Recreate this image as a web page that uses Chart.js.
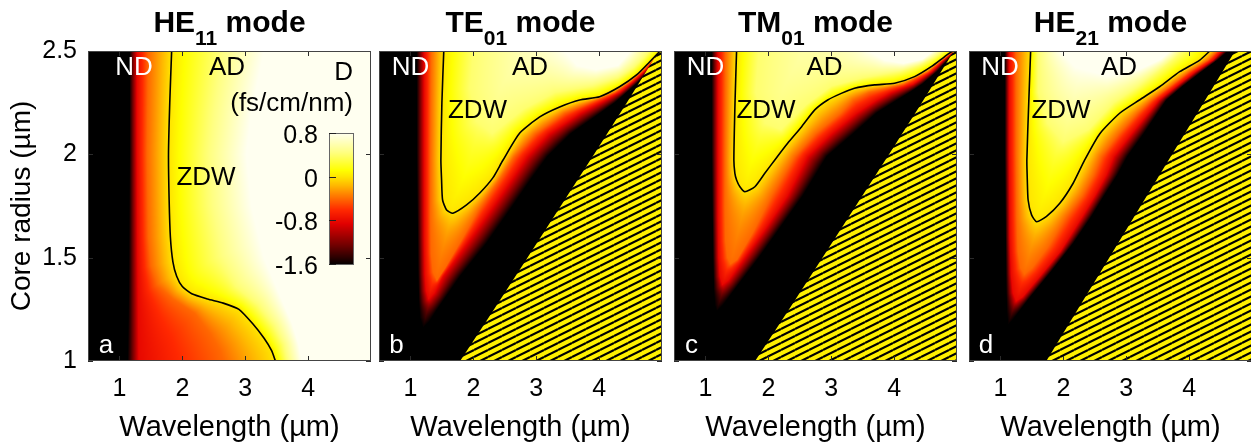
<!DOCTYPE html>
<html>
<head>
<meta charset="utf-8">
<script src="https://cdn.jsdelivr.net/npm/chart.js@4.4.1/dist/chart.umd.min.js"></script>
<style>
  html, body { margin: 0; padding: 0; background: #fff; overflow: hidden; width: 1251px; height: 445px; }
  canvas { position: absolute; top: 0; }
</style>
</head>
<body>
<canvas id="pa" width="376" height="445" style="left:0px"></canvas>
<canvas id="pb" width="293" height="445" style="left:376px"></canvas>
<canvas id="pc" width="293" height="445" style="left:669px"></canvas>
<canvas id="pd" width="291" height="445" style="left:962px"></canvas>
<script>
// ---------- axes ----------
const wavelengthLimits = [0.5, 5];        // µm
const radiusLimits = [1, 2.5];            // µm
const wavelengthTicks = [1, 2, 3, 4];
const radiusTicks = [1, 1.5, 2, 2.5];

// dispersion levels (fs/cm/nm) of the iso-D curves listed below
const dLevels = [-1.6, -0.8, -0.4, 0, 0.4, 0.8];
const colorbarTicks = [0.8, 0, -0.8, -1.6];

const modeFamily = ['HE', 'TE', 'TM', 'HE'];
const modeIndex = ['11', '01', '01', '21'];
const panelLetters = ['a', 'b', 'c', 'd'];

// ---------- HE11 iso-D curves: [wavelength, core radius] ----------
const HE11_m16 = [[1.16,2.5],[1.16,2.0],[1.15,1.5],[1.14,1.2],[1.13,1.0]];
const HE11_m08 = [[1.28,2.5],[1.28,2.0],[1.29,1.5],[1.3,1.25],[1.31,1.0]];
const HE11_m04 = [[1.46,2.5],[1.44,2.0],[1.46,1.6],[1.5,1.46],[1.6,1.37],[1.85,1.3],[2.2,1.23],[2.45,1.13],[2.6,1.05],[2.66,1.0]];
const HE11_zdw = [[1.83,2.5],[1.8,2.25],[1.78,2.0],[1.79,1.78],[1.81,1.6],[1.85,1.48],[1.91,1.41],[2.0,1.36],[2.15,1.325],[2.4,1.3],[2.65,1.28],[2.9,1.25],[3.12,1.18],[3.3,1.11],[3.42,1.05],[3.48,1.0]];
const HE11_p04 = [[2.55,2.5],[2.42,2.2],[2.36,2.0],[2.4,1.75],[2.55,1.5],[2.85,1.36],[3.2,1.27],[3.45,1.17],[3.6,1.08],[3.66,1.0]];
const HE11_p08 = [[3.3,2.5],[3.1,2.2],[3.02,2.0],[3.1,1.75],[3.3,1.5],[3.55,1.32],[3.75,1.18],[3.85,1.08],[3.9,1.0]];

// ---------- TE01 ----------
const TE01_m16 = [[1.1,2.5],[1.1,2.0],[1.11,1.7],[1.12,1.45],[1.13,1.3],[1.15,1.21],[1.2,1.16],[1.3,1.19],[1.42,1.247],[1.79,1.41],[2.21,1.57],[2.58,1.73],[2.94,1.89],[3.18,1.99],[3.55,2.1],[4.02,2.2],[4.25,2.25],[4.44,2.3],[4.62,2.35],[4.78,2.4],[4.89,2.45],[5.0,2.5]];
const TE01_m08 = [[1.22,2.5],[1.22,2.0],[1.22,1.6],[1.23,1.42],[1.25,1.34],[1.29,1.3],[1.38,1.33],[1.52,1.41],[1.9,1.57],[2.27,1.73],[2.63,1.89],[2.85,1.99],[3.2,2.1],[3.7,2.2],[4.02,2.25],[4.33,2.3],[4.54,2.35],[4.72,2.4],[4.86,2.45],[4.98,2.5]];
const TE01_m04 = [[1.33,2.5],[1.32,2.0],[1.32,1.7],[1.33,1.52],[1.36,1.43],[1.42,1.39],[1.55,1.45],[1.8,1.58],[2.08,1.73],[2.44,1.89],[2.65,1.99],[2.98,2.1],[3.45,2.2],[3.85,2.25],[4.25,2.3],[4.49,2.35],[4.68,2.4],[4.84,2.45],[4.97,2.5]];
const TE01_zdw = [[1.53,2.5],[1.5,2.25],[1.484,1.973],[1.495,1.876],[1.511,1.779],[1.575,1.731],[1.675,1.715],[1.892,1.755],[2.103,1.813],[2.31,1.886],[2.468,1.97],[2.738,2.103],[3.056,2.181],[3.373,2.229],[3.69,2.263],[4.008,2.279],[4.325,2.327],[4.595,2.384],[4.802,2.447],[4.97,2.5]];
const TE01_p04 = [[2.0,2.5],[1.95,2.32],[2.05,2.16],[2.3,2.1],[2.8,2.22],[3.3,2.3],[3.9,2.33],[4.3,2.37],[4.55,2.42],[4.72,2.47],[4.8,2.5]];
const TE01_p08 = [[3.45,2.5],[3.65,2.43],[3.95,2.41],[4.3,2.43],[4.5,2.5]];
const TE01_cut = [[1.79,1.0],[2.33,1.25],[2.86,1.5],[3.39,1.75],[3.92,2.0],[4.44,2.25],[4.95,2.5],[5.0,2.5]];

// ---------- TM01 ----------
const TM01_m16 = [[1.1,2.5],[1.1,2.0],[1.11,1.7],[1.12,1.5],[1.13,1.35],[1.15,1.27],[1.18,1.24],[1.28,1.27],[1.5,1.36],[1.85,1.5],[2.2,1.65],[2.55,1.8],[2.93,1.99],[3.35,2.1],[3.72,2.2],[4.05,2.263],[4.25,2.3],[4.45,2.34],[4.68,2.4],[4.83,2.45],[4.98,2.5]];
const TM01_m08 = [[1.2,2.5],[1.2,2.0],[1.2,1.7],[1.21,1.5],[1.23,1.41],[1.27,1.37],[1.36,1.39],[1.6,1.49],[1.95,1.64],[2.3,1.8],[2.62,1.99],[3.0,2.1],[3.4,2.2],[3.72,2.263],[3.95,2.3],[4.3,2.34],[4.6,2.4],[4.77,2.45],[4.96,2.5]];
const TM01_m04 = [[1.32,2.5],[1.31,2.0],[1.31,1.75],[1.32,1.58],[1.35,1.5],[1.4,1.47],[1.5,1.49],[1.75,1.62],[2.05,1.8],[2.42,1.99],[2.75,2.1],[3.15,2.2],[3.35,2.263],[3.6,2.3],[4.15,2.34],[4.54,2.4],[4.74,2.45],[4.95,2.5]];
const TM01_zdw = [[1.495,2.5],[1.47,2.25],[1.452,1.973],[1.468,1.908],[1.495,1.876],[1.548,1.843],[1.627,1.819],[1.786,1.843],[1.944,1.908],[2.103,1.973],[2.31,2.055],[2.53,2.134],[2.738,2.215],[2.944,2.263],[3.16,2.295],[3.37,2.32],[3.69,2.336],[4.008,2.344],[4.325,2.376],[4.59,2.424],[4.8,2.472],[4.93,2.5]];
const TM01_p04 = [[1.85,2.5],[1.8,2.3],[1.95,2.15],[2.2,2.12],[2.6,2.24],[3.0,2.33],[3.5,2.37],[4.1,2.4],[4.4,2.43],[4.65,2.47],[4.78,2.5]];
const TM01_p08 = [[3.6,2.5],[3.85,2.455],[4.15,2.44],[4.45,2.46],[4.62,2.5]];
const TM01_cut = [[1.79,1.0],[2.33,1.25],[2.86,1.5],[3.39,1.75],[3.92,2.0],[4.44,2.25],[4.95,2.5],[5.0,2.5]];

// ---------- HE21 ----------
const HE21_m16 = [[1.07,2.5],[1.07,2.0],[1.08,1.6],[1.09,1.35],[1.1,1.24],[1.12,1.174],[1.2,1.2],[1.45,1.3],[1.8,1.43],[2.16,1.57],[2.45,1.7],[2.65,1.8],[2.86,1.9],[3.02,1.99],[3.28,2.1],[3.5,2.2],[3.64,2.263],[3.9,2.33],[4.2,2.4],[4.45,2.456],[4.62,2.5]];
const HE21_m08 = [[1.14,2.5],[1.14,2.0],[1.15,1.6],[1.17,1.42],[1.2,1.33],[1.25,1.29],[1.35,1.31],[1.6,1.4],[1.95,1.53],[2.3,1.7],[2.5,1.8],[2.68,1.9],[2.8,1.99],[3.08,2.1],[3.35,2.2],[3.52,2.263],[3.8,2.33],[4.1,2.4],[4.38,2.456],[4.52,2.5]];
const HE21_m04 = [[1.25,2.5],[1.25,2.0],[1.26,1.7],[1.28,1.53],[1.32,1.45],[1.38,1.42],[1.5,1.45],[1.75,1.55],[2.05,1.7],[2.3,1.8],[2.48,1.9],[2.6,1.99],[2.88,2.1],[3.18,2.2],[3.4,2.263],[3.7,2.33],[4.0,2.4],[4.3,2.456],[4.45,2.5]];
const HE21_zdw = [[1.48,2.5],[1.45,2.25],[1.42,1.973],[1.427,1.876],[1.44,1.779],[1.495,1.707],[1.575,1.674],[1.733,1.7],[1.944,1.763],[2.156,1.86],[2.34,1.973],[2.58,2.1],[2.9,2.2],[3.21,2.263],[3.53,2.327],[3.85,2.4],[4.17,2.456],[4.33,2.5]];
const HE21_p04 = [[1.6,2.5],[1.6,2.3],[1.75,2.15],[2.0,2.06],[2.4,2.12],[2.8,2.25],[3.2,2.33],[3.5,2.4],[3.75,2.46],[3.9,2.5]];
const HE21_p08 = [[1.95,2.5],[2.2,2.42],[2.7,2.38],[3.2,2.41],[3.55,2.46],[3.7,2.5]];
const HE21_cut = [[1.73,1.0],[2.23,1.25],[2.73,1.5],[3.23,1.75],[3.73,2.0],[4.23,2.25],[4.73,2.5],[5.0,2.5]];

// ---------- styling ----------
const FONT = "'Liberation Sans', Arial, Helvetica, sans-serif";
Chart.defaults.font.family = FONT;
Chart.defaults.color = '#000';

// black -> red -> yellow -> ivory colour scale over [-1.6, 0.8]
const cmapStops = [
  [-1.6, [0, 0, 0]], [-1.25, [110, 0, 0]], [-0.85, [225, 0, 0]], [-0.6, [255, 40, 0]],
  [-0.35, [255, 120, 0]], [-0.15, [255, 185, 0]], [0, [255, 228, 0]], [0.12, [255, 255, 0]],
  [0.45, [255, 255, 130]], [0.8, [255, 255, 240]]
];
function cmap(v) {
  if (v <= cmapStops[0][0]) return cmapStops[0][1];
  for (let i = 1; i < cmapStops.length; i++) {
    const [v1, c1] = cmapStops[i];
    if (v <= v1) {
      const [v0, c0] = cmapStops[i - 1];
      const t = (v - v0) / (v1 - v0);
      return [0, 1, 2].map(k => Math.round(c0[k] + (c1[k] - c0[k]) * t));
    }
  }
  return cmapStops[cmapStops.length - 1][1];
}

function crossings(poly, py) {
  const xs = [];
  for (let i = 0, n = poly.length; i < n; i++) {
    const a = poly[i], b = poly[(i + 1) % n];
    if ((a[1] <= py && b[1] > py) || (b[1] <= py && a[1] > py)) {
      xs.push(a[0] + (py - a[1]) * (b[0] - a[0]) / (b[1] - a[1]));
    }
  }
  return xs.sort((p, q) => p - q);
}
function distTo(pts, px, py) {
  let best = Infinity;
  for (let i = 0; i < pts.length - 1; i++) {
    const ax = pts[i][0], ay = pts[i][1], dx = pts[i + 1][0] - ax, dy = pts[i + 1][1] - ay;
    const L = dx * dx + dy * dy;
    let t = L ? ((px - ax) * dx + (py - ay) * dy) / L : 0;
    t = t < 0 ? 0 : t > 1 ? 1 : t;
    const ex = ax + t * dx - px, ey = ay + t * dy - py, d = ex * ex + ey * ey;
    if (d < best) best = d;
  }
  return Math.sqrt(best);
}

// shaded D map: each pixel is placed between the two iso-D curves that enclose it
function renderField(chart, spec) {
  const { chartArea: ca, scales: { x, y } } = chart;
  const W = Math.round(ca.right - ca.left), H = Math.round(ca.bottom - ca.top);
  const lines = spec.contours.map(c => c.map(([l, r]) => [x.getPixelForValue(l) - ca.left, y.getPixelForValue(r) - ca.top]));
  const polys = lines.map(pts => {
    const f = pts[0], e = pts[pts.length - 1];
    if (spec.closeTo === 'right') return [[f[0], -600], ...pts, [e[0], H + 600], [W + 2000, H + 600], [W + 2000, -600]];
    return [[f[0], -600], ...pts, [e[0], -600]];
  });
  const N = dLevels.length;
  const off = document.createElement('canvas');
  off.width = W; off.height = H;
  const octx = off.getContext('2d');
  const img = octx.createImageData(W, H);
  for (let j = 0; j < H; j++) {
    const py = j + 0.5;
    const xs = polys.map(p => crossings(p, py));
    for (let i = 0; i < W; i++) {
      const px = i + 0.5;
      let count = 0;
      for (let k = 0; k < N; k++) {
        const arr = xs[k]; let c = 0;
        while (c < arr.length && arr[c] < px) c++;
        if (c & 1) count++;
      }
      let D;
      if (count === 0) D = dLevels[0];
      else if (count >= N) D = dLevels[N - 1];
      else {
        const k = count - 1;
        const d0 = distTo(lines[k], px, py), d1 = distTo(lines[k + 1], px, py);
        D = dLevels[k] + (dLevels[k + 1] - dLevels[k]) * d0 / (d0 + d1 + 1e-9);
      }
      const c = cmap(D), o = (j * W + i) * 4;
      img.data[o] = c[0]; img.data[o + 1] = c[1]; img.data[o + 2] = c[2]; img.data[o + 3] = 255;
    }
  }
  octx.putImageData(img, 0, 0);
  return off;
}

function hatchTile() {
  const c = document.createElement('canvas');
  c.width = 14; c.height = 7;
  const g = c.getContext('2d');
  g.fillStyle = '#fff000';
  g.fillRect(0, 0, 14, 7);
  g.strokeStyle = '#000';
  g.lineWidth = 2.1;
  for (const s of [-7, 0, 7]) { g.beginPath(); g.moveTo(0, 7 + s); g.lineTo(14, s); g.stroke(); }
  return c;
}

function panelPlugin(spec) {
  return {
    id: 'panel_' + spec.letter,
    beforeDatasetsDraw(chart) {
      const ca = chart.chartArea;
      if (!chart.$field) chart.$field = renderField(chart, spec);
      chart.ctx.drawImage(chart.$field, ca.left, ca.top);
    },
    afterDatasetsDraw(chart) {
      const { ctx, chartArea: ca, scales: { x, y } } = chart;
      ctx.save();
      // inward ticks on all four sides, then the frame
      ctx.strokeStyle = '#2b2b2b'; ctx.lineWidth = 1;
      ctx.beginPath();
      for (const v of wavelengthTicks) {
        const px = Math.round(x.getPixelForValue(v)) + 0.5;
        ctx.moveTo(px, ca.bottom); ctx.lineTo(px, ca.bottom - 5);
        ctx.moveTo(px, ca.top); ctx.lineTo(px, ca.top + 5);
      }
      for (const v of radiusTicks) {
        const py = Math.round(y.getPixelForValue(v)) + 0.5;
        ctx.moveTo(ca.left, py); ctx.lineTo(ca.left + 5, py);
        ctx.moveTo(ca.right, py); ctx.lineTo(ca.right - 5, py);
      }
      ctx.stroke();
      ctx.strokeStyle = '#444';
      ctx.strokeRect(Math.round(ca.left) + 0.5, Math.round(ca.top) + 0.5, Math.round(ca.right - ca.left) - 1, Math.round(ca.bottom - ca.top) - 1);

      // in-plot labels
      ctx.font = `26px ${FONT}`;
      ctx.textBaseline = 'alphabetic';
      for (const lb of spec.labels) {
        ctx.fillStyle = lb.color;
        ctx.textAlign = lb.align || 'center';
        ctx.fillText(lb.text, ca.left + lb.dx, ca.top + lb.dy);
      }

      // colour bar
      if (spec.colorbar) {
        const cb = spec.colorbar;
        const L = ca.left + cb.dx, T = ca.top + cb.dy;
        const lo = colorbarTicks[colorbarTicks.length - 1], hi = colorbarTicks[0];
        for (let r = 0; r < cb.h; r++) {
          const c = cmap(hi - (r + 0.5) / cb.h * (hi - lo));
          ctx.fillStyle = `rgb(${c[0]},${c[1]},${c[2]})`;
          ctx.fillRect(L, T + r, cb.w, 1);
        }
        ctx.strokeStyle = '#666';
        ctx.strokeRect(L + 0.5, T + 0.5, cb.w - 1, cb.h - 1);
        ctx.strokeStyle = '#222';
        ctx.beginPath();
        ctx.font = `25px ${FONT}`;
        ctx.fillStyle = '#000';
        ctx.textAlign = 'right';
        ctx.textBaseline = 'middle';
        for (const v of colorbarTicks) {
          const py = Math.round(T + (hi - v) / (hi - lo) * (cb.h - 1)) + 0.5;
          ctx.moveTo(L, py); ctx.lineTo(L + 7, py);
          ctx.fillText(String(v), L - 11, py + 3);
        }
        ctx.stroke();
      }
      ctx.restore();
    },
    afterDraw(chart) {
      const { ctx, chartArea: ca } = chart;
      ctx.save();
      ctx.fillStyle = '#000';
      ctx.textBaseline = 'alphabetic';
      ctx.textAlign = 'left';
      const fam = modeFamily[spec.i], idx = modeIndex[spec.i], tail = ' mode';
      ctx.font = `bold 30px ${FONT}`;
      const w1 = ctx.measureText(fam).width, w3 = ctx.measureText(tail).width;
      ctx.font = `bold 21px ${FONT}`;
      const w2 = ctx.measureText(idx).width;
      let x0 = (ca.left + ca.right) / 2 - (w1 + w2 + w3) / 2;
      ctx.font = `bold 30px ${FONT}`;
      ctx.fillText(fam, x0, 32);
      ctx.font = `bold 21px ${FONT}`;
      ctx.fillText(idx, x0 + w1, 45);
      ctx.font = `bold 30px ${FONT}`;
      ctx.fillText(tail, x0 + w1 + w2, 32);
      ctx.restore();
    }
  };
}

const panels = [
  { canvas: 'pa', contours: [HE11_m16, HE11_m08, HE11_m04, HE11_zdw, HE11_p04, HE11_p08], zdw: HE11_zdw, cutoff: null,
    closeTo: 'right', padL: 0, padR: 5, showY: true,
    labels: [
      { text: 'ND', dx: 46, dy: 24, color: '#fff' }, { text: 'AD', dx: 139, dy: 24, color: '#000' },
      { text: 'ZDW', dx: 118, dy: 134, color: '#000' }, { text: panelLetters[0], dx: 18, dy: 302, color: '#fff' },
      { text: 'D', dx: 265, dy: 29, color: '#000', align: 'right' },
      { text: '(fs/cm/nm)', dx: 265, dy: 60, color: '#000', align: 'right' }
    ],
    colorbar: { dx: 241, dy: 82, w: 25, h: 132 } },
  { canvas: 'pb', contours: [TE01_m16, TE01_m08, TE01_m04, TE01_zdw, TE01_p04, TE01_p08], zdw: TE01_zdw, cutoff: TE01_cut,
    closeTo: 'top', padL: 3, padR: 7, showY: false,
    labels: [
      { text: 'ND', dx: 31.5, dy: 24, color: '#fff' }, { text: 'AD', dx: 151, dy: 24, color: '#000' },
      { text: 'ZDW', dx: 98.5, dy: 67, color: '#000' }, { text: panelLetters[1], dx: 17.5, dy: 302, color: '#fff' }
    ] },
  { canvas: 'pc', contours: [TM01_m16, TM01_m08, TM01_m04, TM01_zdw, TM01_p04, TM01_p08], zdw: TM01_zdw, cutoff: TM01_cut,
    closeTo: 'top', padL: 5, padR: 5, showY: false,
    labels: [
      { text: 'ND', dx: 31.5, dy: 24, color: '#fff' }, { text: 'AD', dx: 150.5, dy: 24, color: '#000' },
      { text: 'ZDW', dx: 92, dy: 67, color: '#000' }, { text: panelLetters[2], dx: 17.5, dy: 302, color: '#fff' }
    ] },
  { canvas: 'pd', contours: [HE21_m16, HE21_m08, HE21_m04, HE21_zdw, HE21_p04, HE21_p08], zdw: HE21_zdw, cutoff: HE21_cut,
    closeTo: 'top', padL: 7, padR: 1, showY: false,
    labels: [
      { text: 'ND', dx: 31, dy: 24, color: '#fff' }, { text: 'AD', dx: 150, dy: 24, color: '#000' },
      { text: 'ZDW', dx: 92, dy: 67, color: '#000' }, { text: panelLetters[3], dx: 17, dy: 302, color: '#fff' }
    ] }
];

panels.forEach((p, i) => {
  p.i = i; p.letter = panelLetters[i];
  const ctx = document.getElementById(p.canvas).getContext('2d');
  const toXY = arr => arr.map(([l, r]) => ({ x: l, y: r }));
  const datasets = [{
    label: 'ZDW', data: toXY(p.zdw), borderColor: '#000', borderWidth: 1.6,
    pointRadius: 0, fill: false, tension: 0.2, order: 0
  }];
  if (p.cutoff) {
    datasets.push({
      label: 'below cutoff', data: toXY(p.cutoff), borderWidth: 0, pointRadius: 0,
      fill: 'start', backgroundColor: ctx.createPattern(hatchTile(), 'repeat'), tension: 0, order: 1
    });
  }
  const yScale = {
    type: 'linear', min: radiusLimits[0], max: radiusLimits[1], display: p.showY,
    afterBuildTicks: s => { s.ticks = radiusTicks.map(v => ({ value: v })); },
    ticks: { font: { size: 25 }, color: '#000', padding: 11, autoSkip: false, callback: v => String(v) },
    grid: { display: false, drawTicks: false }, border: { display: false },
    title: { display: true, text: 'Core radius (µm)', font: { size: 28 }, color: '#000', padding: { top: 5, bottom: 0 } },
    afterFit: s => { s.width = p.showY ? 88 : 0; }
  };
  new Chart(ctx, {
    type: 'line',
    data: { datasets },
    options: {
      responsive: false, animation: false, devicePixelRatio: 1, events: [],
      layout: { padding: { top: 51, bottom: 0, left: p.padL, right: p.padR } },
      plugins: { legend: { display: false }, tooltip: { enabled: false }, title: { display: false } },
      scales: {
        x: {
          type: 'linear', min: wavelengthLimits[0], max: wavelengthLimits[1],
          afterBuildTicks: s => { s.ticks = wavelengthTicks.map(v => ({ value: v })); },
          ticks: { font: { size: 25 }, color: '#000', padding: 13, maxRotation: 0, autoSkip: false, callback: v => String(v) },
          grid: { display: false, drawTicks: false }, border: { display: false },
          title: { display: true, text: 'Wavelength (µm)', font: { size: 29 }, color: '#000', padding: { top: 0, bottom: 0 } },
          afterFit: s => { s.height = 84; }
        },
        y: yScale
      }
    },
    plugins: [panelPlugin(p)]
  });
});
</script>
</body>
</html>
